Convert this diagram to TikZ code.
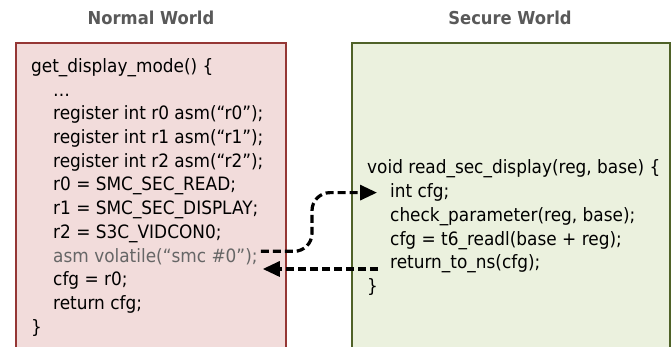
\documentclass[tikz,border=0pt]{standalone}
\usepackage{fontspec}
\setmainfont[FakeStretch=0.92]{DejaVu Sans}
\usetikzlibrary{arrows.meta}
\definecolor{nwfill}{HTML}{F2DCDB}
\definecolor{nwborder}{HTML}{953735}
\definecolor{swfill}{HTML}{EBF1DE}
\definecolor{swborder}{HTML}{4F6228}
\definecolor{titlegray}{HTML}{595959}
\definecolor{asmgray}{HTML}{666666}
\begin{document}
\begin{tikzpicture}[x=1pt,y=-1pt,
  code/.style={anchor=base west, inner sep=0pt, font=\fontsize{18.4}{20}\selectfont, text=black},
  wtitle/.style={anchor=base, inner sep=0pt, font=\fontsize{17.8}{20}\selectfont\bfseries, text=titlegray},
  world/.style={line width=2.5pt},
  flow/.style={line width=3.2pt, dash pattern=on 8pt off 4pt, -{Triangle[length=17pt,width=15pt]}}
]
\useasboundingbox (0,0) rectangle (672,347);
\clip (0,0) rectangle (672,347);
% titles
\node[wtitle] (tnw) at (151,25) {Normal World};
\node[wtitle] (tsw) at (510,25) {Secure World};
% boxes
\draw[world, draw=nwborder, fill=nwfill] (16,43) rectangle (286,365);
\draw[world, draw=swborder, fill=swfill] (352,43) rectangle (670,365);
% normal world code
\node[code] (l0) at (31,72.5) {get\_display\_mode() \{};
\node[code] (l1) at (53,96.2) {…};
\node[code] (l2) at (53,119.9) {register int r0 asm(“r0”);};
\node[code] (l3) at (53,143.6) {register int r1 asm(“r1”);};
\node[code] (l4) at (53,167.3) {register int r2 asm(“r2”);};
\node[code] (l5) at (53,191.0) {r0 = SMC\_SEC\_READ;};
\node[code] (l6) at (53,214.7) {r1 = SMC\_SEC\_DISPLAY;};
\node[code] (l7) at (53,238.4) {r2 = S3C\_VIDCON0;};
\node[code, text=asmgray] (asm) at (53,262.1) {asm volatile(“smc \#0”);};
\node[code] (l9) at (53,285.8) {cfg = r0;};
\node[code] (l10) at (53,309.5) {return cfg;};
\node[code] (l11) at (31,333.2) {\}};
% secure world code
\node[code] (s0) at (367,174) {void read\_sec\_display(reg, base) \{};
\node[code] (intcfg) at (390,197.7) {int cfg;};
\node[code] (s2) at (390,221.4) {check\_parameter(reg, base);};
\node[code] (s3) at (390,245.1) {cfg = t6\_readl(base + reg);};
\node[code] (ret) at (390,268.8) {return\_to\_ns(cfg);};
\node[code] (s5) at (367,292.5) {\}};
% flows
\draw[flow, rounded corners=18pt] ([xshift=3pt,yshift=5pt]asm.east) -| ([xshift=-78pt]intcfg.west) -- ([xshift=-13pt]intcfg.west);
\coordinate (r2start) at ([xshift=-12pt,yshift=-5pt]ret.west);
\path (r2start -| asm.east) coordinate (r2endbase);
\draw[flow] (r2start) -- ([xshift=5pt]r2endbase);
\end{tikzpicture}
\end{document}
